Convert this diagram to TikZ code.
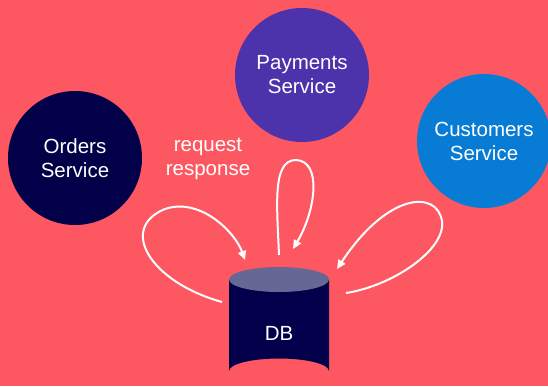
\documentclass[tikz,border=0pt]{standalone}
\usepackage{fontspec}
\setmainfont{Liberation Sans}
\usetikzlibrary{arrows.meta,shapes.geometric}
\definecolor{bgcoral}{HTML}{FD5762}
\definecolor{ordersnavy}{HTML}{020048}
\definecolor{paypurple}{HTML}{4C33AC}
\definecolor{custblue}{HTML}{087CD4}
\definecolor{dbtop}{HTML}{656895}
\definecolor{dbbody}{HTML}{02004A}
\tikzset{
  service/.style={circle, minimum size=134pt, inner sep=0pt, text=white,
    align=center, font=\fontsize{20.5}{24}\selectfont},
  label text/.style={text=white, align=center, font=\fontsize{20.5}{24}\selectfont},
  loop arrow/.style={draw=white, line width=2pt,
    -{Triangle[length=9pt,width=8pt]}},
}
\begin{document}
\begin{tikzpicture}[x=1pt,y=-1pt]
  % background
  \fill[bgcoral] (0,0) rectangle (548,386);
  \useasboundingbox (0,0) rectangle (548,386);

  % services
  \node[service, fill=ordersnavy] (orders) at (75,158) {Orders\\Service};
  \node[service, fill=paypurple] (payments) at (302,75) {Payments\\Service};
  \node[service, fill=custblue] (customers) at (484,141) {Customers\\Service};

  % caption
  \node[label text] (reqresp) at (208,159) {request\\response};

  % database cylinder
  \fill[dbbody] (229,279.5) -- (229,371) arc[start angle=180, end angle=360, x radius=50, y radius=12.5]
    -- (329,279.5) -- cycle;
  \fill[dbtop] (279,279.5) ellipse[x radius=50, y radius=12.5];
  \node[label text] (db) at (279,333) {DB};

  % request / response loops
  \coordinate (l0) at (222,302);
  \coordinate (l1) at (245,260);
  \coordinate (m0) at (279,255);
  \coordinate (m1) at (293,249);
  \coordinate (r0) at (346,293);
  \coordinate (r1) at (337,269);
  \draw[loop arrow] (l0) .. controls (150,282) and (118,228) .. (165,209)
    .. controls (200,197) and (235,232) .. (l1);
  \draw[loop arrow] (m0) .. controls (277,205) and (272,160) .. (296,160)
    .. controls (322,161) and (316,210) .. (m1);
  \draw[loop arrow] (r0) .. controls (392,286) and (446,250) .. (442,221)
    .. controls (437,190) and (388,192) .. (r1);
\end{tikzpicture}
\end{document}
